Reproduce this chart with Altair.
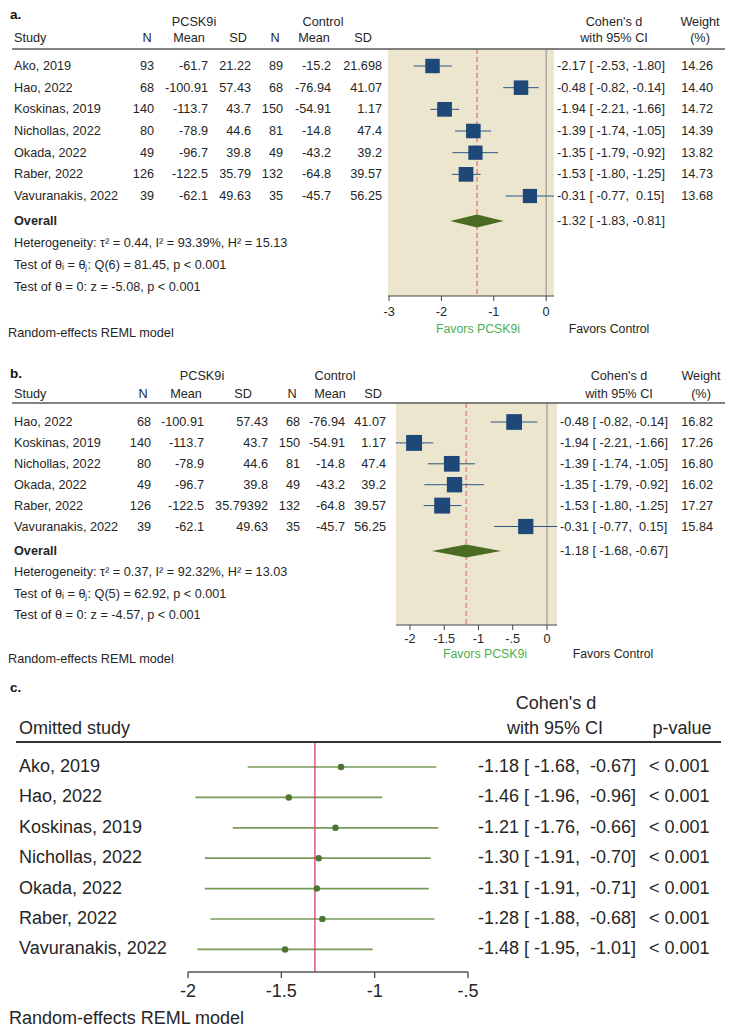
import altair as alt
import pandas as pd

FONT = "Liberation Sans"
INK = "#262626"
NAVY = "#1d4877"
BEIGE = "#ECE6CE"
OLIVE = "#4b6b22"
RED = "#dc5a55"

# ---------------- panel a data ----------------
a_study = ["Ako, 2019", "Hao, 2022", "Koskinas, 2019", "Nichollas, 2022",
           "Okada, 2022", "Raber, 2022", "Vavuranakis, 2022"]
a_n1 = [93, 68, 140, 80, 49, 126, 39]
a_mean1 = [-61.7, -100.91, -113.7, -78.9, -96.7, -122.5, -62.1]
a_sd1 = [21.22, 57.43, 43.7, 44.6, 39.8, 35.79, 49.63]
a_n2 = [89, 68, 150, 81, 49, 132, 35]
a_mean2 = [-15.2, -76.94, -54.91, -14.8, -43.2, -64.8, -45.7]
a_sd2 = [21.698, 41.07, 1.17, 47.4, 39.2, 39.57, 56.25]
a_d = [-2.17, -0.48, -1.94, -1.39, -1.35, -1.53, -0.31]
a_lo = [-2.53, -0.82, -2.21, -1.74, -1.79, -1.80, -0.77]
a_hi = [-1.80, -0.14, -1.66, -1.05, -0.92, -1.25, 0.15]
a_w = [14.26, 14.40, 14.72, 14.39, 13.82, 14.73, 13.68]
a_overall = [-1.32, -1.83, -0.81]
a_stats = ["Heterogeneity: \u03c4\u00b2 = 0.44, I\u00b2 = 93.39%, H\u00b2 = 15.13",
           "Test of \u03b8\u1d62 = \u03b8\u2c7c: Q(6) = 81.45, p < 0.001",
           "Test of \u03b8 = 0: z = -5.08, p < 0.001"]
a_ticks = [-3, -2, -1, 0]
a_tick_labels = ["-3", "-2", "-1", "0"]

# ---------------- panel b data ----------------
b_study = ["Hao, 2022", "Koskinas, 2019", "Nichollas, 2022", "Okada, 2022",
           "Raber, 2022", "Vavuranakis, 2022"]
b_n1 = [68, 140, 80, 49, 126, 39]
b_mean1 = [-100.91, -113.7, -78.9, -96.7, -122.5, -62.1]
b_sd1 = [57.43, 43.7, 44.6, 39.8, 35.79392, 49.63]
b_n2 = [68, 150, 81, 49, 132, 35]
b_mean2 = [-76.94, -54.91, -14.8, -43.2, -64.8, -45.7]
b_sd2 = [41.07, 1.17, 47.4, 39.2, 39.57, 56.25]
b_d = [-0.48, -1.94, -1.39, -1.35, -1.53, -0.31]
b_lo = [-0.82, -2.21, -1.74, -1.79, -1.80, -0.77]
b_hi = [-0.14, -1.66, -1.05, -0.92, -1.25, 0.15]
b_w = [16.82, 17.26, 16.80, 16.02, 17.27, 15.84]
b_overall = [-1.18, -1.68, -0.67]
b_stats = ["Heterogeneity: \u03c4\u00b2 = 0.37, I\u00b2 = 92.32%, H\u00b2 = 13.03",
           "Test of \u03b8\u1d62 = \u03b8\u2c7c: Q(5) = 62.92, p < 0.001",
           "Test of \u03b8 = 0: z = -4.57, p < 0.001"]
b_ticks = [-2, -1.5, -1, -0.5, 0]
b_tick_labels = ["-2", "-1.5", "-1", "-.5", "0"]

# ---------------- panel c data ----------------
c_study = ["Ako, 2019", "Hao, 2022", "Koskinas, 2019", "Nichollas, 2022",
           "Okada, 2022", "Raber, 2022", "Vavuranakis, 2022"]
c_d = [-1.18, -1.46, -1.21, -1.30, -1.31, -1.28, -1.48]
c_lo = [-1.68, -1.96, -1.76, -1.91, -1.91, -1.88, -1.95]
c_hi = [-0.67, -0.96, -0.66, -0.70, -0.71, -0.68, -1.01]
c_p = ["< 0.001"] * 7
c_ref = -1.32
c_ticks = [-2, -1.5, -1, -0.5]
c_tick_labels = ["-2", "-1.5", "-1", "-.5"]

M = 8  # page margin: page px -> chart px


def nb(s):
    return s.replace(" ", "\u00a0")


def ci_text(d, lo, hi, sep=""):
    return nb(f"{d:.2f} [{lo:6.2f},{sep}{hi:6.2f}]")


def text_layer(ys, yvals, texts, x, align="left", size=12.7, color=INK,
               weight="normal"):
    df = pd.DataFrame({"y": yvals, "t": texts})
    return alt.Chart(df).mark_text(
        align=align, baseline="middle", font=FONT, fontSize=size,
        color=color, fontWeight=weight
    ).encode(
        x=alt.value(x - M),
        y=alt.Y("y:Q", scale=ys, axis=None),
        text="t:N",
    )


def hline(ys, y, x0, x1, color, width):
    return alt.Chart(pd.DataFrame({"y": [y]})).mark_rule(
        color=color, strokeWidth=width
    ).encode(x=alt.value(x0 - M), x2=alt.value(x1 - M),
             y=alt.Y("y:Q", scale=ys, axis=None))


def forest_panel(label, study, n1, m1, s1, n2, m2, s2, d, lo, hi, w,
                 overall, stats, ticks, tick_labels, G):
    ys = alt.Scale(domain=[G["top"], G["bottom"]], range=[0, G["H"]],
                   nice=False, zero=False)
    xs = alt.Scale(domain=G["xdom"], range=[G["xr"][0] - M, G["xr"][1] - M],
                   nice=False, zero=False)
    rows = [G["row0"] + i * G["dy"] for i in range(len(study))]
    X = lambda f: alt.X(f, scale=xs, axis=None)
    Y = lambda f: alt.Y(f, scale=ys, axis=None)

    layers = []
    # plot background
    layers.append(alt.Chart(pd.DataFrame({
        "x0": [G["xdom"][0]], "x1": [G["xdom"][1]],
        "y0": [G["line"]], "y1": [G["axis"]]})).mark_rect(color=BEIGE).encode(
        x=X("x0:Q"), x2="x1:Q", y=Y("y0:Q"), y2="y1:Q"))
    # zero line
    layers.append(alt.Chart(pd.DataFrame({
        "x": [0], "y0": [G["line"]], "y1": [G["axis"]]})).mark_rule(
        color="#8c8c8c", strokeWidth=1).encode(x=X("x:Q"), y=Y("y0:Q"), y2="y1:Q"))
    # overall dashed line
    layers.append(alt.Chart(pd.DataFrame({
        "x": [overall[0]], "y0": [G["line"]], "y1": [G["axis"]]})).mark_rule(
        color=RED, strokeWidth=1, strokeDash=[5, 3]).encode(
        x=X("x:Q"), y=Y("y0:Q"), y2="y1:Q"))
    fd = pd.DataFrame({"d": d, "lo": lo, "hi": hi, "w": w, "y": rows})
    layers.append(alt.Chart(fd).mark_rule(color="#2d5685", strokeWidth=1).encode(
        x=X("lo:Q"), x2="hi:Q", y=Y("y:Q")))
    layers.append(alt.Chart(fd).mark_square(color=NAVY, opacity=1, filled=True).encode(
        x=X("d:Q"), y=Y("y:Q"),
        size=alt.Size("w:Q", scale=alt.Scale(domain=[0, 20], range=[0, 20 * G["sq_k"]]),
                      legend=None)))
    # diamond
    oy = G["overall"]
    h = G["dia_h"]
    dia = pd.DataFrame({"x": [overall[1], overall[0], overall[2]],
                        "ya": [oy, oy - h, oy], "yb": [oy, oy + h, oy]})
    layers.append(alt.Chart(dia).mark_area(color=OLIVE, orient="vertical",
                                           opacity=1).encode(
        x=X("x:Q"), y=Y("ya:Q"), y2="yb:Q"))
    # axis
    layers.append(alt.Chart(pd.DataFrame({
        "x0": [G["xdom"][0]], "x1": [G["xdom"][1]], "y": [G["axis"]]})).mark_rule(
        color="#444444", strokeWidth=1).encode(x=X("x0:Q"), x2="x1:Q", y=Y("y:Q")))
    td = pd.DataFrame({"t": ticks, "lab": tick_labels,
                       "y0": [G["axis"]] * len(ticks),
                       "y1": [G["axis"] + 5] * len(ticks),
                       "yl": [G["tick_y"]] * len(ticks)})
    layers.append(alt.Chart(td).mark_rule(color="#444444", strokeWidth=1).encode(
        x=X("t:Q"), y=Y("y0:Q"), y2="y1:Q"))
    layers.append(alt.Chart(td).mark_text(font=FONT, fontSize=12.7, color=INK,
                                          baseline="middle", align="center").encode(
        x=X("t:Q"), y=Y("yl:Q"), text="lab:N"))
    # header rule
    layers.append(hline(ys, G["line"], 12, 725, "#5a5a5a", 1.6))

    hdr = G["hdr"]
    cr = G["col_right"]
    layers.append(text_layer(ys, [G["label_y"]], [label], 10, weight="bold", size=13.5,
                             color="#111111"))
    layers.append(text_layer(ys, [G["h1"]], ["PCSK9i"], hdr["PCSK9i"], align="center"))
    layers.append(text_layer(ys, [G["h1"]], ["Control"], hdr["Control"], align="center"))
    layers.append(text_layer(ys, [G["h1"]], ["Cohen's d"], hdr["Cohen"], align="center"))
    layers.append(text_layer(ys, [G["h1"]], ["Weight"], hdr["Weight"], align="center"))
    layers.append(text_layer(ys, [G["h2"]], ["Study"], G["x_study"]))
    for key, lab in [("N1", "N"), ("Mean1", "Mean"), ("SD1", "SD"),
                     ("N2", "N"), ("Mean2", "Mean"), ("SD2", "SD")]:
        layers.append(text_layer(ys, [G["h2"]], [lab], hdr[key], align="center"))
    layers.append(text_layer(ys, [G["h2"]], ["with 95% CI"], hdr["Cohen"], align="center"))
    layers.append(text_layer(ys, [G["h2"]], ["(%)"], hdr["Weight"], align="center"))

    layers.append(text_layer(ys, rows, study, G["x_study"]))
    for key, vals in [("n1", n1), ("m1", m1), ("s1", s1),
                      ("n2", n2), ("m2", m2), ("s2", s2)]:
        layers.append(text_layer(ys, rows, [str(v) for v in vals], cr[key], align="right"))
    layers.append(text_layer(ys, rows, [ci_text(a, b, c) for a, b, c in zip(d, lo, hi)],
                             G["ci_x"]))
    layers.append(text_layer(ys, rows, [f"{v:.2f}" for v in w], G["w_x"], align="right"))
    layers.append(text_layer(ys, [oy], ["Overall"], G["x_study"], weight="bold"))
    layers.append(text_layer(ys, [oy], [ci_text(*overall)], G["ci_x"]))
    layers.append(text_layer(ys, G["stats"], stats, G["x_study"]))
    layers.append(text_layer(ys, [G["favors"]], ["Favors PCSK9i"], G["fav1"],
                             align="center", size=12.3, color="#4caf50"))
    layers.append(text_layer(ys, [G["favors"]], ["Favors Control"], G["fav2"],
                             align="center", size=12.3))
    layers.append(text_layer(ys, [G["model"]], ["Random-effects REML model"], 8))

    return alt.layer(*layers).properties(width=720, height=G["H"])


GA = dict(top=8, bottom=340, H=332, label_y=14, h1=21, h2=37, line=48, row0=65,
          dy=21.67, overall=220, stats=[242, 264, 286], axis=295, tick_y=311,
          favors=328, model=332, x_study=14,
          hdr={"N1": 147, "Mean1": 189, "SD1": 238, "N2": 275, "Mean2": 314,
               "SD2": 363, "PCSK9i": 194, "Control": 323, "Cohen": 614, "Weight": 700},
          col_right={"n1": 154, "m1": 208, "s1": 251, "n2": 283, "m2": 331, "s2": 382},
          ci_x=557, w_x=713, xdom=[-3.02, 0.15], xr=[388, 554], fav1=478, fav2=609,
          sq_k=14.7, dia_h=6.5)

GB = dict(top=340, bottom=668, H=328, label_y=373, h1=375, h2=393, line=402, row0=421,
          dy=20.9, overall=550, stats=[571, 593, 614], axis=624, tick_y=638,
          favors=653, model=658, x_study=14,
          hdr={"N1": 143, "Mean1": 186, "SD1": 243, "N2": 292, "Mean2": 330,
               "SD2": 373, "PCSK9i": 202, "Control": 335, "Cohen": 619, "Weight": 701},
          col_right={"n1": 151, "m1": 204, "s1": 268, "n2": 300, "m2": 345, "s2": 386},
          ci_x=560, w_x=713, xdom=[-2.204, 0.146], xr=[396, 557], fav1=485, fav2=613,
          sq_k=10.5, dia_h=6.5)

panel_a = forest_panel("a.", a_study, a_n1, a_mean1, a_sd1, a_n2, a_mean2, a_sd2,
                       a_d, a_lo, a_hi, a_w, a_overall, a_stats, a_ticks, a_tick_labels, GA)
panel_b = forest_panel("b.", b_study, b_n1, b_mean1, b_sd1, b_n2, b_mean2, b_sd2,
                       b_d, b_lo, b_hi, b_w, b_overall, b_stats, b_ticks, b_tick_labels, GB)

# ---------------- panel c ----------------
GC = dict(top=668, bottom=1028, H=360, label_y=687, h1=703, h2=728, line=741,
          row0=766, dy=30.4, axis=971, tick_y=991, model=1018)
ysc = alt.Scale(domain=[GC["top"], GC["bottom"]], range=[0, GC["H"]], nice=False, zero=False)
xsc = alt.Scale(domain=[-2, -0.5], range=[188 - M, 468 - M], nice=False, zero=False)
XC = lambda f: alt.X(f, scale=xsc, axis=None)
YC = lambda f: alt.Y(f, scale=ysc, axis=None)
c_rows = [GC["row0"] + i * GC["dy"] for i in range(len(c_study))]
cd = pd.DataFrame({"d": c_d, "lo": c_lo, "hi": c_hi, "y": c_rows})

c_layers = []
c_layers.append(alt.Chart(cd).mark_rule(color="#779a57", strokeWidth=1.7).encode(
    x=XC("lo:Q"), x2="hi:Q", y=YC("y:Q")))
c_layers.append(alt.Chart(pd.DataFrame({"x": [c_ref], "y0": [GC["line"]],
                                        "y1": [GC["axis"]]})).mark_rule(
    color="#dc3a6e", strokeWidth=1.3).encode(x=XC("x:Q"), y=YC("y0:Q"), y2="y1:Q"))
c_layers.append(alt.Chart(cd).mark_circle(color="#4e7630", opacity=1, size=42).encode(
    x=XC("d:Q"), y=YC("y:Q")))
c_layers.append(alt.Chart(pd.DataFrame({"x0": [c_ticks[0]], "x1": [c_ticks[-1]],
                                        "y": [GC["axis"]]})).mark_rule(
    color="#555555", strokeWidth=1.4).encode(x=XC("x0:Q"), x2="x1:Q", y=YC("y:Q")))
ctd = pd.DataFrame({"t": c_ticks, "lab": c_tick_labels,
                    "y0": [GC["axis"]] * len(c_ticks),
                    "y1": [GC["axis"] + 6] * len(c_ticks),
                    "yl": [GC["tick_y"]] * len(c_ticks)})
c_layers.append(alt.Chart(ctd).mark_rule(color="#555555", strokeWidth=1.4).encode(
    x=XC("t:Q"), y=YC("y0:Q"), y2="y1:Q"))
c_layers.append(alt.Chart(ctd).mark_text(font=FONT, fontSize=18, color=INK,
                                         baseline="middle", align="center").encode(
    x=XC("t:Q"), y=YC("yl:Q"), text="lab:N"))
c_layers.append(hline(ysc, GC["line"], 16, 721, "#333333", 2))
c_layers.append(text_layer(ysc, [GC["label_y"]], ["c."], 10, weight="bold", size=13.5,
                           color="#111111"))
c_layers.append(text_layer(ysc, [GC["h1"]], ["Cohen's d"], 556, align="center", size=18))
c_layers.append(text_layer(ysc, [GC["h2"]], ["with 95% CI"], 555, align="center", size=18))
c_layers.append(text_layer(ysc, [GC["h2"]], ["p-value"], 682, align="center", size=18))
c_layers.append(text_layer(ysc, [GC["h2"]], ["Omitted study"], 19, size=18))
c_layers.append(text_layer(ysc, c_rows, c_study, 19, size=18))
c_layers.append(text_layer(ysc, c_rows,
                           [ci_text(a, b, c, sep=" ") for a, b, c in zip(c_d, c_lo, c_hi)],
                           636, align="right", size=18))
c_layers.append(text_layer(ysc, c_rows, [nb(p) for p in c_p], 649, size=18))
c_layers.append(text_layer(ysc, [GC["model"]], ["Random-effects REML model"], 9, size=18))

panel_c = alt.layer(*c_layers).properties(width=720, height=GC["H"])

chart = alt.vconcat(panel_a, panel_b, panel_c, spacing=0).properties(
    padding=0
).configure_view(stroke=None)

chart.save("out.html", embed_options={"renderer": "svg", "actions": False})
